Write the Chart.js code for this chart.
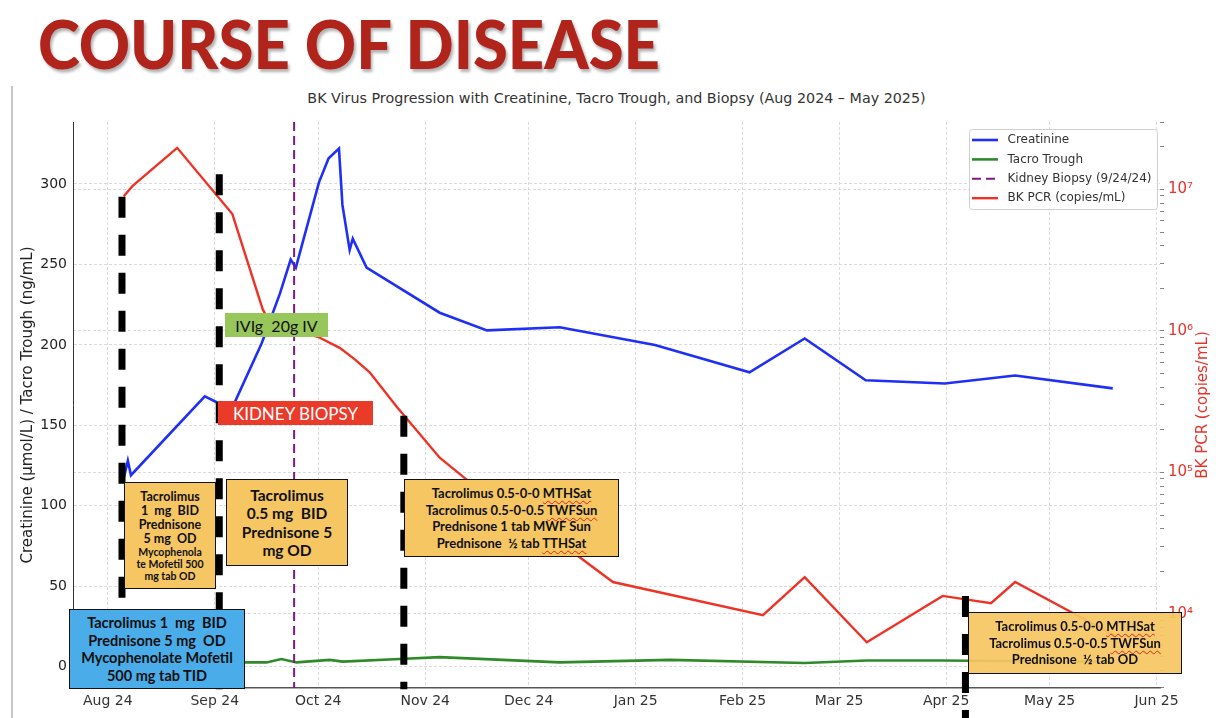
<!DOCTYPE html>
<html>
<head>
<meta charset="utf-8">
<script src="https://cdn.jsdelivr.net/npm/chart.js@4.4.1/dist/chart.umd.min.js"></script>
<style>
  body { margin: 0; background: #fff; }
  #page { position: relative; width: 1216px; height: 718px; overflow: hidden; font-family: 'Lato', sans-serif; }
  #wrap { position: absolute; left: 0; top: 0; width: 1216px; height: 718px; }
  #head { position: absolute; left: 38px; top: 6px; font-family: 'Lato'; font-weight: 900; font-size: 66px; line-height: 76px;
          color: #b0241c; white-space: nowrap; transform-origin: left top; text-shadow: 2px 3px 3px rgba(0,0,0,0.3); }
  .frame { position: absolute; left: 11px; top: 86px; width: 2px; height: 632px; background: #c6c6c6; }
  .ctitle { position: absolute; left: 0; width: 1233px; top: 90px; text-align: center; font: 14.3px 'DejaVu Sans'; color: #333; }
  .note { position: absolute; box-sizing: border-box; border: 1.5px solid #111; text-align: center; font-weight: 700; color: #111;
          display: flex; flex-direction: column; justify-content: center; z-index: 2; }
  .orange { background: #f5c662; }
  .sq { text-decoration: underline wavy #e0241c; text-decoration-thickness: 1px; text-underline-offset: 2px; }
  .tag { position: absolute; box-sizing: border-box; text-align: center; z-index: 2; display: flex; align-items: center; justify-content: center; }
</style>
</head>
<body>
<div id="page">
  <div id="head">COURSE OF DISEASE</div>
  <div class="frame"></div>
  <div class="ctitle">BK Virus Progression with Creatinine, Tacro Trough, and Biopsy (Aug 2024 – May 2025)</div>
  <div id="wrap"><canvas id="chart"></canvas></div>

  <div class="tag" style="left:225px; top:313px; width:103px; height:24px; background:#97c65b; color:#111; font-size:16px;">IVIg&nbsp;&nbsp;20g IV</div>
  <div class="tag" style="left:218px; top:401px; width:155px; height:24px; background:#e93a2a; color:#fff; font-size:17px;">KIDNEY BIOPSY</div>

  <div class="note" style="left:69px; top:609px; width:176px; height:80px; background:#4aace9; font-size:14.5px; line-height:17.5px;">
    <div>Tacrolimus 1&nbsp; mg&nbsp; BID</div><div>Prednisone 5 mg&nbsp; OD</div><div>Mycophenolate Mofetil</div><div>500 mg tab TID</div>
  </div>
  <div class="note orange" style="left:124px; top:482px; width:92px; height:107px; font-size:12.5px; line-height:14px;">
    <div>Tacrolimus</div><div>1&nbsp; mg&nbsp; BID</div><div>Prednisone</div><div>5 mg&nbsp; OD</div>
    <div style="font-size:10.5px; line-height:12px;">Mycophenola<br>te Mofetil 500<br>mg tab OD</div>
  </div>
  <div class="note orange" style="left:226px; top:479px; width:122px; height:87px; font-size:15.5px; line-height:18.5px;">
    <div>Tacrolimus</div><div>0.5 mg&nbsp; BID</div><div>Prednisone 5</div><div>mg OD</div>
  </div>
  <div class="note orange" style="left:404px; top:479px; width:215px; height:78px; font-size:13px; line-height:16.5px;">
    <div>Tacrolimus 0.5-0-0 <span class="sq">MTHSat</span></div>
    <div>Tacrolimus 0.5-0-0.5 <span class="sq">TWFSun</span></div>
    <div>Prednisone 1 tab MWF Sun</div>
    <div>Prednisone&nbsp; ½ tab <span class="sq">TTHSat</span></div>
  </div>
  <div class="note" style="left:968px; top:612px; width:214px; height:62px; background:rgba(245,198,98,0.93); font-size:13px; line-height:16.5px;">
    <div>Tacrolimus 0.5-0-0 <span class="sq">MTHSat</span></div>
    <div>Tacrolimus 0.5-0-0.5 <span class="sq">TWFSun</span></div>
    <div>Prednisone&nbsp; ½ tab OD</div>
  </div>
</div>

<script>
// x is days since 1 Aug 2024
const tickDays = [0, 31, 61, 92, 122, 153, 184, 212, 243, 273, 304];
const tickLabels = ['Aug 24', 'Sep 24', 'Oct 24', 'Nov 24', 'Dec 24', 'Jan 25', 'Feb 25', 'Mar 25', 'Apr 25', 'May 25', 'Jun 25'];
const leftTicks = [0, 50, 100, 150, 200, 250, 300];
const superDigits = ['⁰', '¹', '²', '³', '⁴', '⁵', '⁶', '⁷', '⁸', '⁹'];

const creatDays = [4.6, 5.8, 6.7, 28.1, 31.9, 34.8, 44.6, 49.9, 53, 54.5, 61.2, 64, 67, 68, 70.1, 71, 75, 96.2, 109.9, 131, 158.6, 186, 202, 219.7, 242.6, 263, 291.3];
const creatVals = [117, 128, 119, 168, 164, 155, 201, 232, 253, 248, 301, 316, 322, 287, 259, 266, 248, 220, 209, 211, 200, 183, 204, 178, 176, 181, 173];

const tacroDays = [5, 39.7, 46, 50.3, 54.7, 64.3, 68.1, 84.6, 96.2, 131, 163, 202, 220, 242, 291];
const tacroVals = [3, 2.7, 2.7, 4.8, 2.7, 4.3, 3.2, 4.8, 6.0, 2.7, 4.3, 2.3, 3.9, 3.9, 3];

const bkDays = [4.6, 7.2, 20.1, 36.1, 44.9, 47.5, 60.9, 67.2, 71.6, 75.9, 83.8, 96.2, 104, 136, 146.4, 189.9, 202, 220, 242, 256, 263, 292.5];
const bkVals = [8.97e6, 1.06e7, 1.97e7, 6.7e6, 1.42e6, 1.09e6, 9.1e5, 7.6e5, 6.3e5, 5.1e5, 2.9e5, 1.27e5, 8.9e4, 2.6e4, 1.68e4, 9.8e3, 1.82e4, 6.3e3, 1.34e4, 1.19e4, 1.68e4, 6.9e3];

const biopsyDay = 54;

// treatment change markers (left axis units)
const changeDays = [4.1, 32.3, 85.8, 248.6];
const changeTop = [292, 306, 156, 44];
const changeBottom = [40, -16, -14, -32];

const yMin = -13.2, yMax = 338.5;
const pts = (xs, ys) => xs.map((x, i) => ({ x, y: ys[i] }));

function fitHead() {
  const head = document.getElementById('head');
  head.style.transform = 'none';
  head.style.transform = 'scaleX(' + (622 / head.scrollWidth) + ')';
}
fitHead();
document.fonts.ready.then(fitHead);

const legendBox = {
  id: 'legendBox',
  afterDraw(chart) {
    const { ctx, chartArea: a } = chart;
    const items = chart.data.datasets.filter(d => d.inLegend);
    const w = 188, h = 80, x = a.right - w - 3, y = a.top + 7;
    ctx.save();
    ctx.fillStyle = 'rgba(255,255,255,0.85)';
    ctx.strokeStyle = '#cfcfcf';
    ctx.lineWidth = 1;
    ctx.beginPath();
    ctx.roundRect(x + 0.5, y + 0.5, w, h, 3);
    ctx.fill();
    ctx.stroke();
    ctx.font = '12px "DejaVu Sans"';
    ctx.textBaseline = 'middle';
    items.forEach((d, i) => {
      const ly = y + 11 + i * 19.4;
      ctx.strokeStyle = d.borderColor;
      ctx.lineWidth = d.borderWidth;
      ctx.setLineDash(d.borderDash || []);
      ctx.beginPath();
      ctx.moveTo(x + 3, ly);
      ctx.lineTo(x + 29, ly);
      ctx.stroke();
      ctx.setLineDash([]);
      ctx.fillStyle = '#333';
      ctx.fillText(d.label, x + 38.5, ly);
    });
    ctx.restore();
  }
};

const axisTitles = {
  id: 'axisTitles',
  afterDraw(chart) {
    const { ctx, chartArea: a } = chart;
    const mid = (a.top + a.bottom) / 2;
    ctx.save();
    ctx.font = '15px "DejaVu Sans"';
    ctx.textAlign = 'center';
    ctx.textBaseline = 'middle';
    ctx.translate(28, mid);
    ctx.rotate(-Math.PI / 2);
    ctx.fillStyle = '#222';
    ctx.fillText('Creatinine (μmol/L) / Tacro Trough (ng/mL)', 0, 0);
    ctx.restore();
    ctx.save();
    ctx.font = '15px "DejaVu Sans"';
    ctx.textAlign = 'center';
    ctx.textBaseline = 'middle';
    ctx.translate(1203, mid);
    ctx.rotate(-Math.PI / 2);
    ctx.fillStyle = '#e8322a';
    ctx.fillText('BK PCR (copies/mL)', 0, 0);
    ctx.restore();
  }
};

const changeSets = changeDays.map((d, i) => ({
  label: 'change' + i,
  data: [{ x: d, y: changeTop[i] }, { x: d, y: changeBottom[i] }],
  borderColor: '#000',
  borderWidth: 7,
  borderDash: [21, 17],
  borderCapStyle: 'butt',
  yAxisID: 'y',
  clip: false,
  order: 0
}));

const isDecade = v => v === Math.pow(10, Math.round(Math.log10(v)));

new Chart(document.getElementById('chart'), {
  type: 'line',
  data: {
    datasets: [
      ...changeSets,
      { label: 'Creatinine', data: pts(creatDays, creatVals), borderColor: '#1f2ff5', borderWidth: 2.6, yAxisID: 'y', inLegend: true, order: 2 },
      { label: 'Tacro Trough', data: pts(tacroDays, tacroVals), borderColor: '#2f8a2a', borderWidth: 2.6, yAxisID: 'y', inLegend: true, order: 3 },
      { label: 'Kidney Biopsy (9/24/24)', data: [{ x: biopsyDay, y: yMax }, { x: biopsyDay, y: yMin }], borderColor: '#7e1a86', borderWidth: 2, borderDash: [9, 5], yAxisID: 'y', inLegend: true, order: 1 },
      { label: 'BK PCR (copies/mL)', data: pts(bkDays, bkVals), borderColor: '#ee3326', borderWidth: 2.4, yAxisID: 'y2', inLegend: true, order: 4 }
    ]
  },
  options: {
    responsive: true,
    maintainAspectRatio: false,
    animation: false,
    layout: { padding: { top: 122, left: 0, right: 0, bottom: 0 } },
    elements: { point: { radius: 0, hitRadius: 0 }, line: { tension: 0 } },
    plugins: { legend: { display: false }, tooltip: { enabled: false } },
    scales: {
      x: {
        type: 'linear',
        min: -10.1,
        max: 305,
        afterBuildTicks: s => { s.ticks = tickDays.map(v => ({ value: v })); },
        afterFit: s => { s.height = 30; },
        ticks: { autoSkip: false, maxRotation: 0, padding: 5, color: '#333', font: { family: 'DejaVu Sans', size: 14 },
                 callback: v => tickLabels[tickDays.indexOf(v)] },
        grid: { color: '#d2d2d2', lineWidth: 0.8, drawTicks: false },
        border: { color: '#555', width: 1.5, dash: [3, 2] }
      },
      y: {
        position: 'left',
        min: yMin,
        max: yMax,
        afterBuildTicks: s => { s.ticks = leftTicks.map(v => ({ value: v })); },
        afterFit: s => { s.width = 73; },
        ticks: { autoSkip: false, padding: 6, color: '#222', font: { family: 'DejaVu Sans', size: 14 } },
        grid: { color: '#d2d2d2', lineWidth: 0.8, drawTicks: false },
        border: { color: '#333', width: 1, dash: [3, 2] }
      },
      y2: {
        type: 'logarithmic',
        position: 'right',
        min: 2994,
        max: 3.0e7,
        afterBuildTicks: s => {
          const t = [];
          for (let e = 3; e <= 7; e++) {
            for (let m = 1; m < 10; m++) {
              const v = m * Math.pow(10, e);
              if (v >= s.min && v <= s.max) t.push({ value: v });
            }
          }
          s.ticks = t;
        },
        afterFit: s => { s.width = 56; },
        ticks: { autoSkip: false, padding: 4, color: '#e8322a', font: { family: 'DejaVu Sans', size: 15 },
                 callback: v => isDecade(v) ? '10' + superDigits[Math.round(Math.log10(v))] : '' },
        grid: { color: c => (c.tick && isDecade(c.tick.value)) ? '#d2d2d2' : 'rgba(0,0,0,0)',
                tickColor: '#666', tickLength: 4, lineWidth: 0.8 },
        border: { display: false, dash: [3, 2] }
      }
    }
  },
  plugins: [legendBox, axisTitles]
});
</script>
</body>
</html>
